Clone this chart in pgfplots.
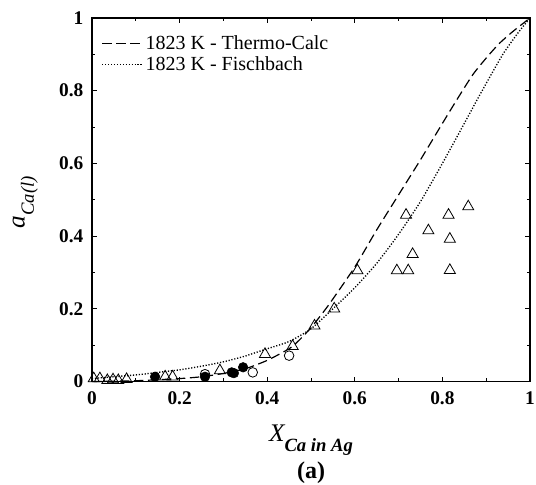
\documentclass[border=0pt]{standalone}
\usepackage{pgfplots}
\pgfplotsset{compat=1.18}
\usepackage{fontspec}
\setmainfont{Liberation Serif}
\begin{document}
\begin{tikzpicture}
\useasboundingbox (-69pt,-77.6pt) rectangle (333pt,286.1pt);
\begin{axis}[
  scale only axis,
  width=328.5pt, height=272.6pt,
  xmin=0, xmax=1, ymin=0, ymax=1,
  xtick={0,0.2,0.4,0.6,0.8,1},
  ytick={0,0.2,0.4,0.6,0.8,1},
  minor tick num=1,
  tick align=inside,
  major tick length=3.5pt,
  minor tick length=2.5pt,
  axis line style={line width=0.8pt},
  tick style={line width=0.7pt, black},
  /pgf/number format/assume math mode=true,
  ticklabel style={font=\fontsize{14.5}{16}\selectfont\bfseries},
  xticklabel style={yshift=-4pt},
  yticklabel style={xshift=-3pt},
  xlabel={\fontsize{19}{22}\selectfont\itshape X\raisebox{-7.5pt}{\fontsize{14}{16}\selectfont\bfseries\itshape Ca in Ag}},
  xlabel style={at={(axis description cs:0.5,0)}, anchor=center, yshift=-44pt},
  ylabel={\fontsize{19}{22}\selectfont\itshape a\raisebox{-7pt}{\fontsize{14}{16}\selectfont\itshape Ca(l)}},
  ylabel style={at={(axis description cs:0,0.5)}, anchor=center, yshift=50pt, xshift=-2pt},
  legend style={at={(0,1)}, anchor=north west, draw=none, fill=none,
     font=\fontsize{15}{17}\selectfont, xshift=4pt, yshift=-9pt,
     row sep=0pt, cells={anchor=west}},
  legend image code/.code={\draw[#1] (0pt,0pt) -- (30pt,0pt);},
  clip=false,
]
\addplot[black, line width=0.9pt, dash pattern=on 7pt off 3.5pt, smooth, tension=0.4] coordinates {
(0,0.0) (0.1,0.002) (0.2,0.008) (0.25,0.013) (0.3,0.022) (0.35,0.035) (0.4,0.058)
(0.45,0.09) (0.47,0.11) (0.5,0.148) (0.54,0.21) (0.6,0.315) (0.65,0.417)
(0.707,0.527) (0.75,0.61) (0.8,0.71) (0.835,0.779) (0.87,0.845) (0.903,0.894)
(0.93,0.93) (0.96,0.962) (1,1)};
\addlegendentry{1823 K - Thermo-Calc}
\addplot[black, line width=1pt, dash pattern=on 0.9pt off 1.3pt, smooth, tension=0.4] coordinates {
(0,0.008) (0.1,0.018) (0.15,0.025) (0.2,0.032) (0.25,0.042) (0.3,0.054) (0.35,0.07)
(0.4,0.09) (0.45,0.11) (0.5,0.145) (0.55,0.2) (0.6,0.258) (0.65,0.325) (0.7,0.405)
(0.75,0.495) (0.8,0.6) (0.85,0.71) (0.877,0.77) (0.9,0.82) (0.938,0.9) (0.972,0.958) (1,1)};
\addlegendentry{1823 K - Fischbach}
% open triangles
\addplot[only marks, mark=triangle, mark size=4.8pt, mark options={black, line width=0.6pt}, forget plot] coordinates {
(0.004,0.008) (0.018,0.008) (0.035,0.003) (0.048,0.005) (0.06,0.003) (0.079,0.006)
(0.167,0.013) (0.184,0.013) (0.292,0.03) (0.395,0.075) (0.458,0.097) (0.508,0.153)
(0.553,0.2) (0.606,0.305) (0.696,0.305) (0.722,0.305) (0.717,0.458) (0.732,0.35)
(0.768,0.415) (0.814,0.458) (0.817,0.392) (0.817,0.306) (0.859,0.481)};
% open circles
\addplot[only marks, mark=*, mark size=3.6pt, mark options={draw=black, fill=white, line width=0.6pt}, forget plot] coordinates {
(0.258,0.02) (0.367,0.025) (0.45,0.071)};
% filled circles
\addplot[only marks, mark=*, mark size=3.6pt, mark options={draw=black, fill=black}, forget plot] coordinates {
(0.144,0.013) (0.258,0.013) (0.319,0.025) (0.324,0.023) (0.345,0.039)};
\end{axis}
\node[font=\fontsize{18}{20}\selectfont\bfseries] at (164.25pt,-68.5pt) {(a)};
\end{tikzpicture}
\end{document}
